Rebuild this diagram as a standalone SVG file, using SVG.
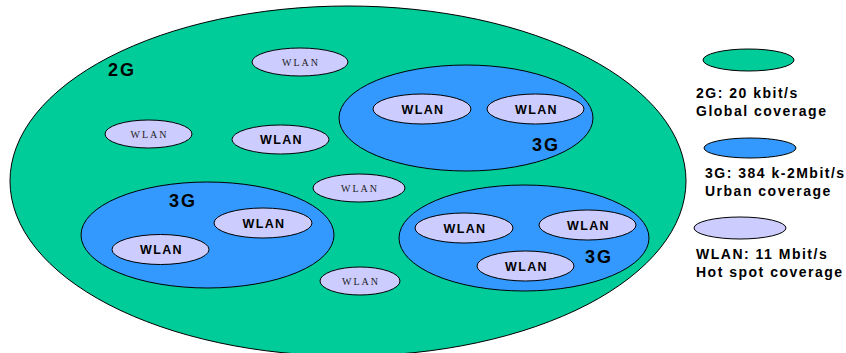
<svg xmlns="http://www.w3.org/2000/svg" width="846" height="353" viewBox="0 0 846 353">
<style>
.g2{fill:#00CC99;stroke:#000;stroke-width:1}
.g3{fill:#3399FF;stroke:#000;stroke-width:1}
.wl{fill:#CCCCFF;stroke:#000;stroke-width:1}
.bw{font-family:"Liberation Sans",Arial,sans-serif;font-weight:bold;font-size:12.5px;letter-spacing:1.4px;fill:#000;text-anchor:middle}
.sw{font-family:"Liberation Serif","Times New Roman",serif;font-size:10px;letter-spacing:2px;fill:#222;text-anchor:middle}
.lab{font-family:"Liberation Sans",Arial,sans-serif;font-weight:bold;font-size:18px;letter-spacing:2px;fill:#000}
.leg{font-family:"Liberation Sans",Arial,sans-serif;font-weight:bold;font-size:14px;letter-spacing:1.5px;fill:#000}
</style>
<rect width="846" height="353" fill="#fff"/>
<g id="net-2g">
<ellipse class="g2" cx="348" cy="181" rx="338" ry="175"/>
<text class="lab" x="108" y="76">2G</text>
</g>
<g id="wlan-top">
<ellipse class="wl" cx="300" cy="62" rx="48" ry="14"/>
<text class="sw" x="301" y="65.5">WLAN</text>
</g>
<g id="wlan-left">
<ellipse class="wl" cx="148.5" cy="134" rx="43.5" ry="14"/>
<text class="sw" x="149.5" y="137.5">WLAN</text>
</g>
<g id="wlan-mid">
<ellipse class="wl" cx="280.5" cy="139.5" rx="48.5" ry="14.5"/>
<text class="bw" x="281.5" y="144">WLAN</text>
</g>
<g id="wlan-center">
<ellipse class="wl" cx="359" cy="188" rx="46" ry="14"/>
<text class="sw" x="360" y="191.5">WLAN</text>
</g>
<g id="wlan-bottom">
<ellipse class="wl" cx="360" cy="281" rx="40" ry="14"/>
<text class="sw" x="361" y="284.5">WLAN</text>
</g>
<g id="net-3g-top">
<ellipse class="g3" cx="466" cy="118" rx="127" ry="53"/>
<text class="lab" x="532" y="151">3G</text>
</g>
<g id="wlan-3gt-1">
<ellipse class="wl" cx="422" cy="109" rx="49" ry="15"/>
<text class="bw" x="423" y="113.5">WLAN</text>
</g>
<g id="wlan-3gt-2">
<ellipse class="wl" cx="535.5" cy="109" rx="48.5" ry="15"/>
<text class="bw" x="536.5" y="113.5">WLAN</text>
</g>
<g id="net-3g-left">
<ellipse class="g3" cx="207.5" cy="235" rx="126.5" ry="53"/>
<text class="lab" x="169" y="207">3G</text>
</g>
<g id="wlan-3gl-1">
<ellipse class="wl" cx="263" cy="223" rx="49" ry="15"/>
<text class="bw" x="264" y="227.5">WLAN</text>
</g>
<g id="wlan-3gl-2">
<ellipse class="wl" cx="160.5" cy="249.5" rx="48.5" ry="15"/>
<text class="bw" x="161.5" y="254">WLAN</text>
</g>
<g id="net-3g-right">
<ellipse class="g3" cx="524" cy="238" rx="125" ry="53"/>
<text class="lab" x="585" y="263">3G</text>
</g>
<g id="wlan-3gr-1">
<ellipse class="wl" cx="464" cy="228" rx="49" ry="15"/>
<text class="bw" x="465" y="232.5">WLAN</text>
</g>
<g id="wlan-3gr-2">
<ellipse class="wl" cx="587.5" cy="225" rx="48.5" ry="15"/>
<text class="bw" x="588.5" y="229.5">WLAN</text>
</g>
<g id="wlan-3gr-3">
<ellipse class="wl" cx="525.5" cy="266" rx="48.5" ry="15"/>
<text class="bw" x="526.5" y="270.5">WLAN</text>
</g>
<g id="legend-2g">
<ellipse class="g2" cx="748.5" cy="60" rx="45.5" ry="11"/>
<text class="leg" x="696" y="98">2G: 20 kbit/s</text>
<text class="leg" x="696" y="116">Global coverage</text>
</g>
<g id="legend-3g">
<ellipse class="g3" cx="750" cy="148" rx="46" ry="10"/>
<text class="leg" x="705" y="178">3G: 384 k-2Mbit/s</text>
<text class="leg" x="705" y="196">Urban coverage</text>
</g>
<g id="legend-wlan">
<ellipse class="wl" cx="740" cy="228" rx="46" ry="11"/>
<text class="leg" x="696" y="259">WLAN: 11 Mbit/s</text>
<text class="leg" x="696" y="277">Hot spot coverage</text>
</g>
<g id="connectors"/>
</svg>
